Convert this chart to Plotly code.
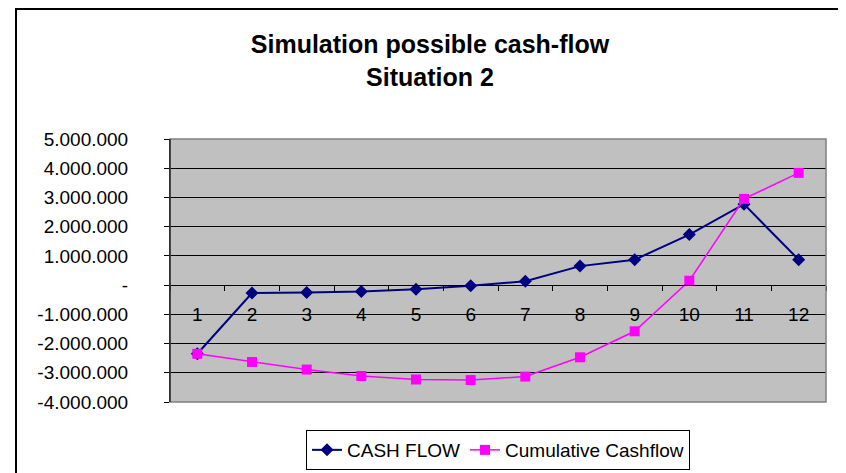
import plotly.graph_objects as go

periods = ["1", "2", "3", "4", "5", "6", "7", "8", "9", "10", "11", "12"]
cash_flow = [-2350000, -270000, -250000, -220000, -140000, -20000, 130000, 650000, 870000, 1730000, 2770000, 870000]
cumulative = [-2350000, -2630000, -2890000, -3110000, -3230000, -3250000, -3130000, -2470000, -1580000, 150000, 2950000, 3840000]
y_ticks = [-4000000, -3000000, -2000000, -1000000, 0, 1000000, 2000000, 3000000, 4000000, 5000000]
y_labels = ["-4.000.000", "-3.000.000", "-2.000.000", "-1.000.000", "-", "1.000.000",
            "2.000.000", "3.000.000", "4.000.000", "5.000.000"]

# the page body has an 8px default margin; work in screen coordinates minus 8
OFF = 8
W, H = 846 - OFF, 473 - OFF
L, T = 170 - OFF, 139 - OFF
R = W - (826 - OFF)
B = H - (402 - OFF)
pw, ph = W - L - R, H - T - B

def px(x):
    return (x - OFF - L) / pw

def py(y):
    return (H - B - (y - OFF)) / ph

FONT = "Liberation Sans, Arial, sans-serif"

fig = go.Figure()
fig.add_trace(go.Scatter(
    x=periods, y=cash_flow, name="CASH FLOW", mode="lines+markers",
    line=dict(color="#000080", width=2),
    marker=dict(symbol="diamond", size=10, color="#000080"),
))
fig.add_trace(go.Scatter(
    x=periods, y=cumulative, name="Cumulative Cashflow", mode="lines+markers",
    line=dict(color="#FF00FF", width=1.5),
    marker=dict(symbol="square", size=10, color="#FF00FF"),
))

ymin, ymax = -4000000, 5000000

fig.update_layout(
    width=W, height=H,
    margin=dict(l=L, r=R, t=T, b=B, autoexpand=False),
    paper_bgcolor="white",
    plot_bgcolor="#C0C0C0",
    font=dict(family=FONT, size=19, color="black"),
    title=dict(
        text="<b>Simulation possible cash-flow<br>Situation 2</b>",
        x=(430 - OFF) / W, xanchor="center", xref="container",
        y=1 - 45 / H, yanchor="top", yref="container",
        font=dict(family=FONT, size=25, color="black"),
    ),
    showlegend=True,
    legend=dict(
        orientation="h", x=px(498), xanchor="center",
        y=1 - (430 - OFF) / H, yref="container", yanchor="top",
        bordercolor="black", borderwidth=1, bgcolor="white",
        font=dict(family=FONT, size=19, color="black"),
        itemwidth=30, tracegroupgap=0,
    ),
    xaxis=dict(
        type="category", anchor="free", position=(0 - ymin) / (ymax - ymin),
        showline=True, linecolor="black", linewidth=1,
        ticks="outside", ticklen=5, tickcolor="black", tickson="boundaries",
        ticklabelstandoff=12,
        showgrid=False, zeroline=False,
        tickfont=dict(family=FONT, size=19, color="black"),
        range=[-0.5, 11.5],
    ),
    yaxis=dict(
        range=[ymin, ymax], tickvals=y_ticks, ticktext=y_labels,
        showline=True, linecolor="black", linewidth=1,
        ticks="outside", ticklen=5, tickcolor="black",
        ticklabelstandoff=32,
        showgrid=True, gridcolor="black", gridwidth=1,
        zeroline=False,
        tickfont=dict(family=FONT, size=19, color="black"),
    ),
    shapes=[
        dict(type="rect", xref="paper", yref="paper", x0=0, x1=1, y0=0, y1=1,
             line=dict(color="#808080", width=1.5), layer="above"),
        dict(type="line", xref="paper", yref="paper", x0=0, x1=0, y0=0, y1=1,
             line=dict(color="black", width=1), layer="above"),
        dict(type="rect", xref="paper", yref="paper",
             x0=px(16), x1=px(843), y0=py(9), y1=py(490),
             line=dict(color="black", width=2), layer="below"),
    ],
)

fig.write_html("out.html")
